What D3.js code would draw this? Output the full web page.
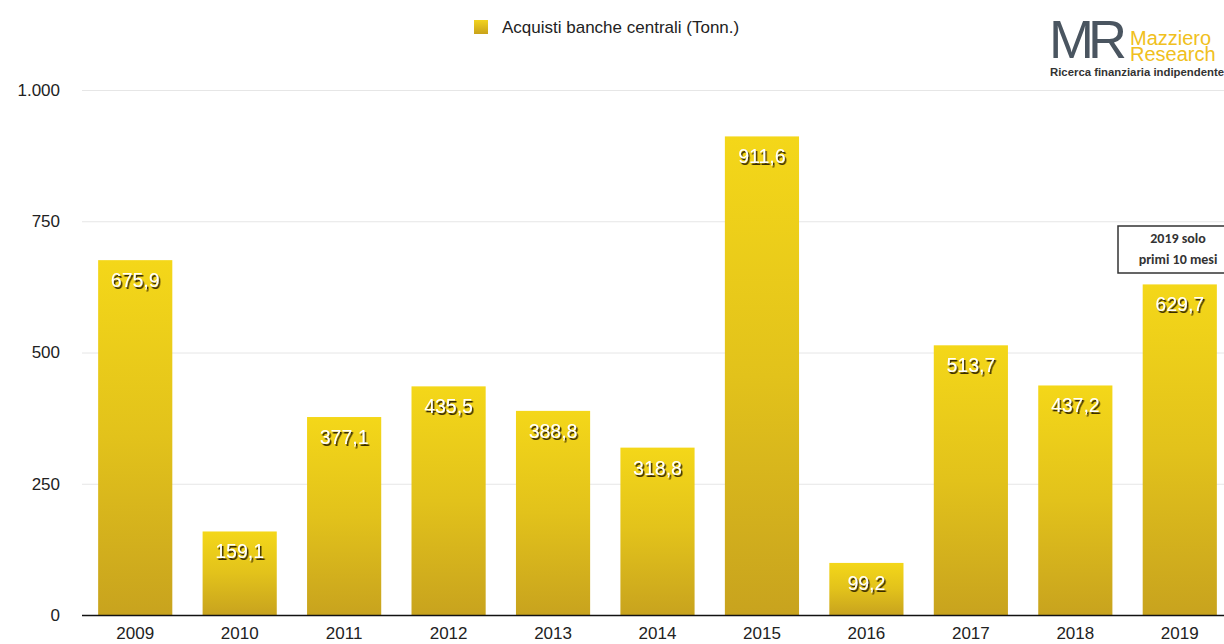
<!DOCTYPE html>
<html><head><meta charset="utf-8">
<script src="https://cdn.jsdelivr.net/npm/d3@7"></script>
<style>body{margin:0;background:#fff;overflow:hidden}</style>
</head><body>
<svg id="c" width="1224" height="644"></svg>
<script>
const years = ["2009","2010","2011","2012","2013","2014","2015","2016","2017","2018","2019"];
const values = [675.9,159.1,377.1,435.5,388.8,318.8,911.6,99.2,513.7,437.2,629.7];
const yTicks = [0,250,500,750,1000];
const legendLabel = "Acquisti banche centrali (Tonn.)";
const noteLines = ["2019 solo","primi 10 mesi"];

const svg = d3.select("#c");
const font = "Helvetica, Arial, 'Liberation Sans', sans-serif";
const x = d3.scaleBand().domain(years).range([83,1232]).paddingInner(0.29).paddingOuter(0.145);
const y = d3.scaleLinear().domain([0,1000]).range([615,90]);
const itFmt = d3.formatLocale({decimal:",",thousands:".",grouping:[3],currency:["","€"]});

const defs = svg.append("defs");
const g = defs.append("linearGradient").attr("id","gold").attr("x1",0).attr("y1",0).attr("x2",0).attr("y2",1);
g.append("stop").attr("offset","0%").attr("stop-color","#f4d719");
g.append("stop").attr("offset","50%").attr("stop-color","#e2c21b");
g.append("stop").attr("offset","100%").attr("stop-color","#c8a31e");
const lg = defs.append("linearGradient").attr("id","lgold").attr("x1",0).attr("y1",0).attr("x2",0).attr("y2",1);
lg.append("stop").attr("offset","0%").attr("stop-color","#f2d320");
lg.append("stop").attr("offset","100%").attr("stop-color","#c9a21a");
const f = defs.append("filter").attr("id","sh").attr("x","-20%").attr("y","-20%").attr("width","140%").attr("height","160%");
f.append("feDropShadow").attr("dx",1.5).attr("dy",2).attr("stdDeviation",0.7).attr("flood-color","#2e2400").attr("flood-opacity",0.95);

// grid
const yAxis = d3.axisLeft(y).tickValues(yTicks).tickSize(-1150).tickPadding(22)
  .tickFormat(d => itFmt.format(",")(d));
const ga = svg.append("g").attr("transform","translate(82,0)").call(yAxis);
ga.select(".domain").remove();
ga.selectAll(".tick line").attr("stroke","#e6e6e6").attr("stroke-width",1);
ga.selectAll(".tick text").attr("font-family",font).attr("font-size",17).attr("fill","#222");

// bars
svg.append("g").selectAll("rect").data(values).join("rect")
  .attr("x",(d,i)=>x(years[i])).attr("width",x.bandwidth())
  .attr("y",d=>y(d)).attr("height",d=>y(0)-y(d)).attr("fill","url(#gold)");

// baseline
svg.append("line").attr("x1",82).attr("x2",1224).attr("y1",615.5).attr("y2",615.5).attr("stroke","#111").attr("stroke-width",1.5);

// value labels
svg.append("g").selectAll("text").data(values).join("text")
  .attr("x",(d,i)=>x(years[i])+x.bandwidth()/2).attr("y",d=>y(d)+27)
  .attr("text-anchor","middle").attr("font-family",font).attr("font-size",19.5)
  .attr("fill","#fff").attr("filter","url(#sh)")
  .text(d=>itFmt.format(",.1f")(d));

// x axis
const xAxis = d3.axisBottom(x).tickSize(0).tickPadding(12);
const gx = svg.append("g").attr("transform","translate(0,615)").call(xAxis);
gx.select(".domain").remove();
gx.selectAll("text").attr("font-family",font).attr("font-size",17).attr("fill","#222");

// legend
svg.append("rect").attr("x",474).attr("y",20).attr("width",14).attr("height",14).attr("fill","url(#lgold)");
svg.append("text").attr("x",502).attr("y",33).attr("font-family",font).attr("font-size",17).attr("fill","#222").text(legendLabel);

// note box
const nb = svg.append("g");
nb.append("rect").attr("x",1118).attr("y",226).attr("width",120).attr("height",47).attr("fill","#fff").attr("stroke","#333").attr("stroke-width",1.5);
nb.selectAll("text").data(noteLines).join("text").attr("x",1178).attr("y",(d,i)=>243+i*21)
  .attr("text-anchor","middle").attr("font-family","Carlito, 'Open Sans', sans-serif").attr("font-weight","bold").attr("font-size",14).attr("fill","#333").text(d=>d);

// logo
const lo = svg.append("g");
lo.append("text").attr("x",1049).attr("y",58).attr("font-family","'Liberation Sans', Arial, sans-serif").attr("font-size",54).attr("letter-spacing",-6).attr("fill","#4a5560").text("MR");
lo.append("text").attr("x",1130).attr("y",45).attr("font-family",font).attr("font-size",20).attr("fill","#f0c020").text("Mazziero");
lo.append("text").attr("x",1130).attr("y",61).attr("font-family",font).attr("font-size",20).attr("fill","#f0c020").text("Research");
lo.append("text").attr("x",1050).attr("y",76).attr("font-family",font).attr("font-weight","bold").attr("font-size",10.5).attr("textLength",174).attr("lengthAdjust","spacingAndGlyphs").attr("fill","#333").text("Ricerca finanziaria indipendente");
</script>
</body></html>
